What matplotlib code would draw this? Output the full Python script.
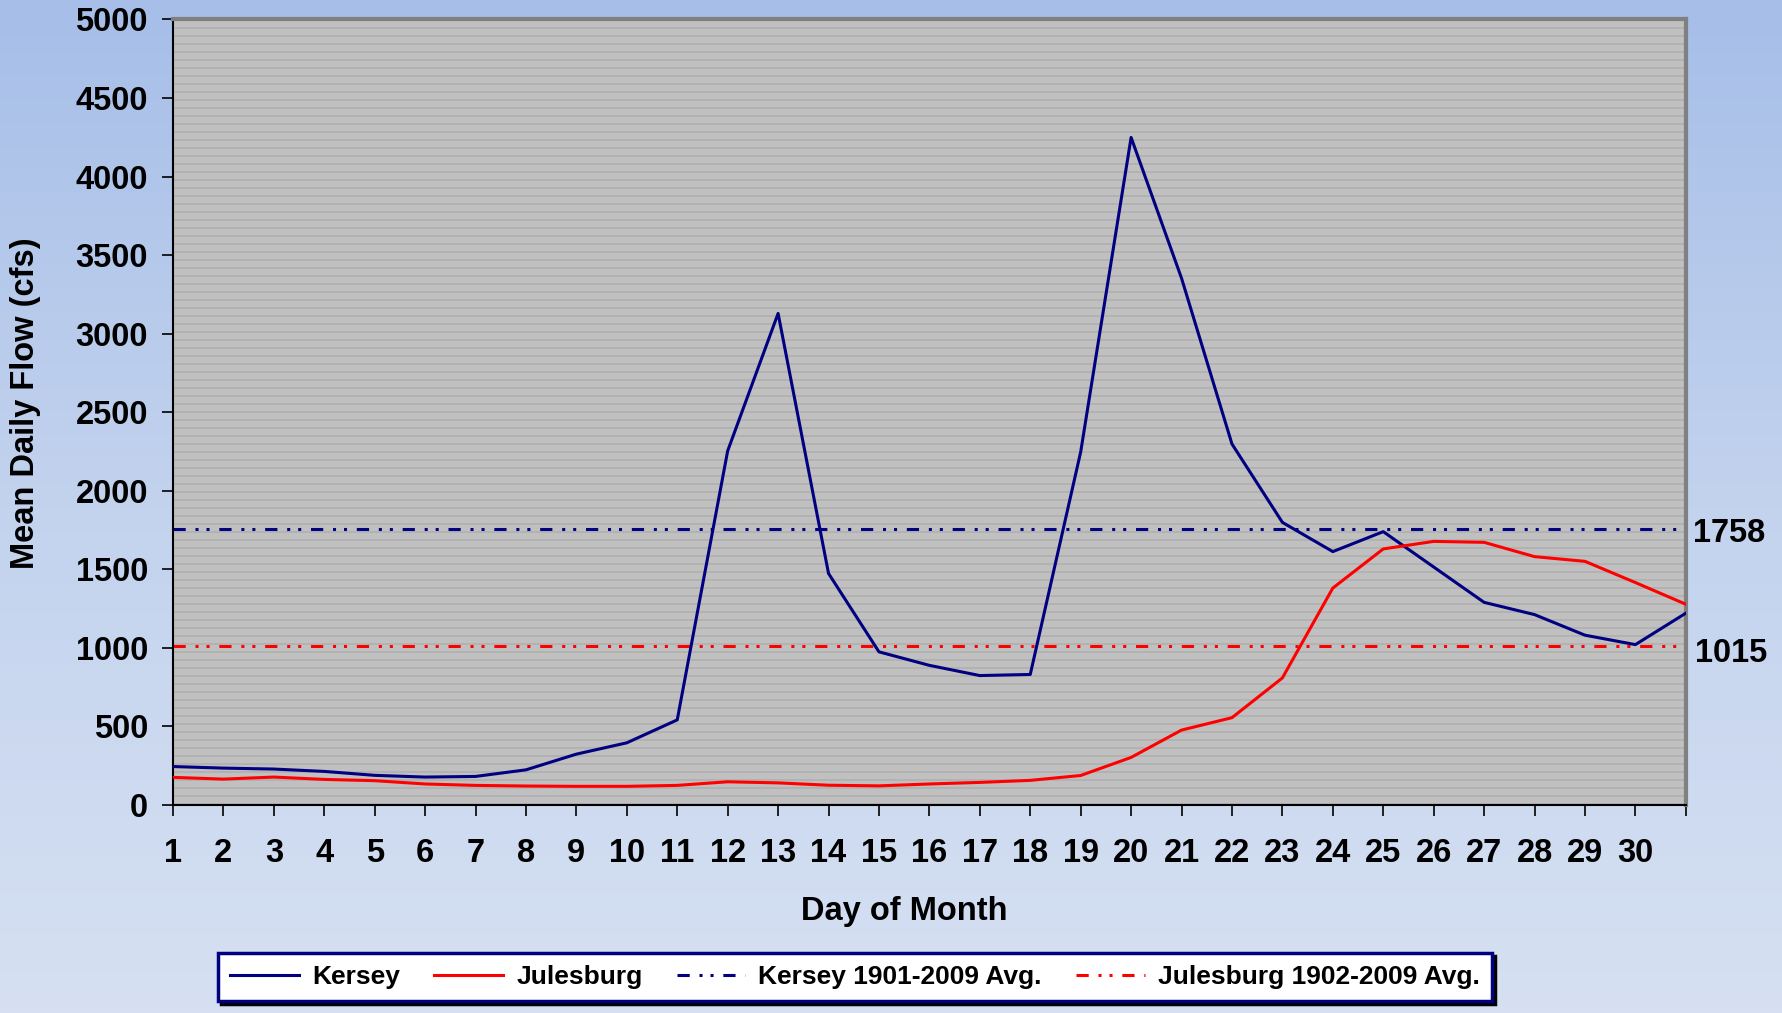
import matplotlib
matplotlib.use("Agg")
import matplotlib.pyplot as plt
import numpy as np
from matplotlib.patches import Rectangle
from matplotlib.colors import LinearSegmentedColormap, ListedColormap
import matplotlib.transforms as mtransforms

# --- data ---
days = list(range(1, 32))
kersey = [245, 235, 229, 214, 189, 178, 182, 224, 324, 396, 542,
          2254, 3129, 1474, 975, 889, 824, 831, 2247, 4249, 3353,
          2298, 1799, 1613, 1740, 1515, 1290, 1212, 1081, 1021, 1221]
julesburg = [176, 165, 178, 163, 155, 134, 125, 121, 119, 119, 125,
             148, 141, 126, 122, 134, 144, 157, 188, 303, 477,
             556, 809, 1381, 1630, 1678, 1672, 1581, 1551, 1416, 1278]
kersey_avg = 1758
julesburg_avg = 1015
day_labels = [str(d) for d in range(1, 31)]

NAVY = "#000080"
RED = "#ff0000"
FS = 23.5
plt.rcParams["font.family"] = ["Liberation Sans", "DejaVu Sans"]
plt.rcParams["font.weight"] = "bold"

fig = plt.figure(figsize=(17.83, 10.13), dpi=100)

# --- gradient figure background ---
bg = fig.add_axes([0, 0, 1, 1], zorder=-10)
cmap = LinearSegmentedColormap.from_list("bg", ["#a6bee8", "#c3d3ee", "#d6e0f2"])
bg.imshow(np.linspace(0, 1, 256).reshape(-1, 1), aspect="auto", cmap=cmap,
          extent=[0, 1, 0, 1])
bg.axis("off")

ax = fig.add_axes([0.0970, 0.2053, 0.8485, 0.7755])
ax.set_facecolor("#c0c0c0")

# striped plot-area texture (8 px period)
rows = 786
stripes = ((np.arange(rows) % 8) < 2).astype(float).reshape(-1, 1)
ax.imshow(stripes, aspect="auto", cmap=ListedColormap(["#c0c0c0", "#b2b2b2"]),
          extent=[0, 1, 0, 1], transform=ax.transAxes, interpolation="nearest",
          zorder=0)

dash = (0, (4, 3.2, 1, 2.6, 1, 3.2))
ax.plot(days, kersey, color=NAVY, lw=2.2, label="Kersey", zorder=3)
ax.plot(days, julesburg, color=RED, lw=2.2, label="Julesburg", zorder=3)
ax.plot([1, 30.9], [kersey_avg, kersey_avg], color=NAVY, lw=2.2, linestyle=dash,
        label="Kersey 1901-2009 Avg.", zorder=2)
ax.plot([1, 30.9], [julesburg_avg, julesburg_avg], color=RED, lw=2.2, linestyle=dash,
        label="Julesburg 1902-2009 Avg.", zorder=2)

ax.set_xlim(1, 31)
ax.set_ylim(0, 5000)
ax.set_aspect("auto")
ax.set_xticks(range(1, 32))
ax.set_xticklabels(day_labels + [""])
ax.set_yticks(range(0, 5001, 500))
ax.tick_params(axis="both", direction="out", length=8, width=1.2, labelsize=FS,
               colors="black")
ax.tick_params(axis="x", pad=16)
ax.tick_params(axis="y", pad=10)
for lab in ax.get_xticklabels() + ax.get_yticklabels():
    lab.set_fontweight("bold")

ax.spines["left"].set_color("black")
ax.spines["bottom"].set_color("black")
ax.spines["left"].set_linewidth(1.5)
ax.spines["bottom"].set_linewidth(1.5)
ax.spines["top"].set_color("#808080")
ax.spines["right"].set_color("#808080")
ax.spines["top"].set_linewidth(3)
ax.spines["right"].set_linewidth(3)

fig.text(904 / 1783, 1 - 911 / 1013, "Day of Month", fontsize=FS,
         fontweight="bold", ha="center", va="center")
fig.text(26 / 1783, 1 - 403 / 1013, "Mean Daily Flow (cfs)", fontsize=FS,
         fontweight="bold", ha="center", va="center", rotation=90)

trans = mtransforms.blended_transform_factory(ax.transAxes, ax.transData)
ax.text(1.005, kersey_avg - 30, str(kersey_avg), transform=trans, fontsize=FS,
        fontweight="bold", va="center", ha="left")
ax.text(1.006, julesburg_avg - 50, str(julesburg_avg), transform=trans, fontsize=FS,
        fontweight="bold", va="center", ha="left")

leg = fig.legend(loc="center", bbox_to_anchor=(0.4796, 0.0355), ncol=4,
                 fontsize=19, frameon=True, fancybox=False,
                 shadow={"color": "black", "alpha": 1}, edgecolor=NAVY,
                 facecolor="white", framealpha=1, handlelength=2.6,
                 columnspacing=1.3, handletextpad=0.5, borderpad=0.45)
leg.get_frame().set_linewidth(2.5)
for t in leg.get_texts():
    t.set_fontweight("bold")

fig.savefig("out.png", dpi=100)
